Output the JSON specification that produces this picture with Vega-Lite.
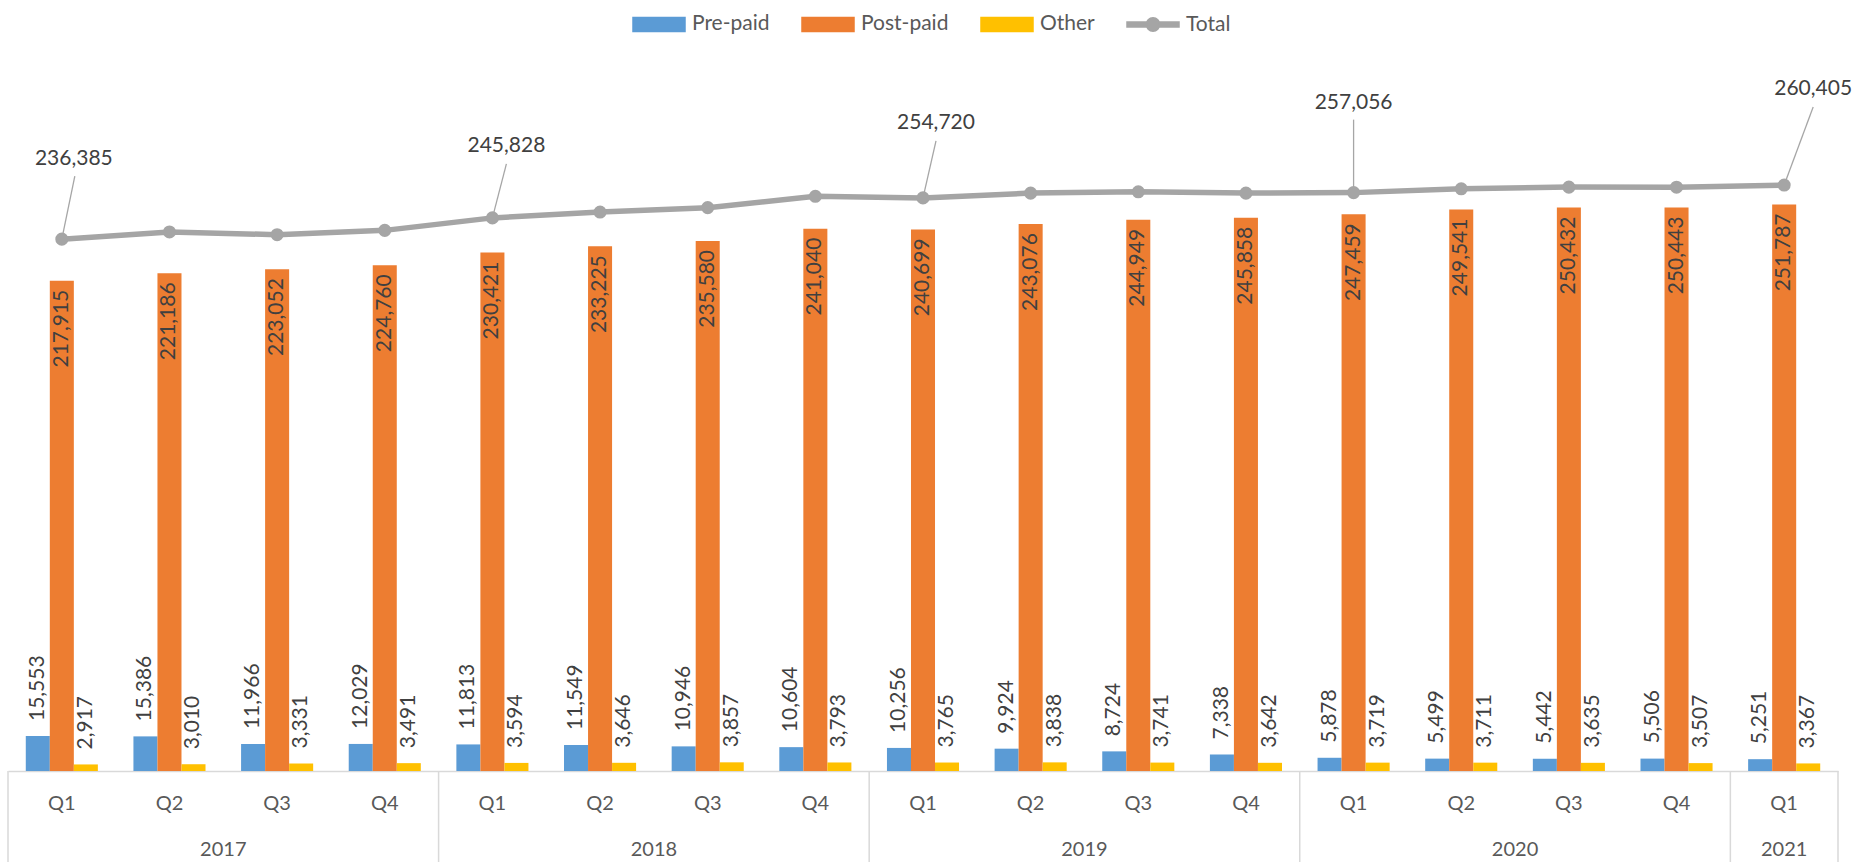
{
  "$schema": "https://vega.github.io/schema/vega-lite/v6.json",
  "autosize": {"type": "none"},
  "width": 1830,
  "height": 675,
  "padding": {"left": 8, "top": 96, "right": 22, "bottom": 91},
  "background": "white",
  "config": {"font": "Lato", "view": {"stroke": null}},
  "data": {"values": [
    {"period": "2017 Q1", "year": "2017", "q": "Q1", "Pre-paid": 15553, "Post-paid": 217915, "Other": 2917, "Total": 236385},
    {"period": "2017 Q2", "year": "2017", "q": "Q2", "Pre-paid": 15386, "Post-paid": 221186, "Other": 3010, "Total": 239582},
    {"period": "2017 Q3", "year": "2017", "q": "Q3", "Pre-paid": 11966, "Post-paid": 223052, "Other": 3331, "Total": 238349},
    {"period": "2017 Q4", "year": "2017", "q": "Q4", "Pre-paid": 12029, "Post-paid": 224760, "Other": 3491, "Total": 240280},
    {"period": "2018 Q1", "year": "2018", "q": "Q1", "Pre-paid": 11813, "Post-paid": 230421, "Other": 3594, "Total": 245828},
    {"period": "2018 Q2", "year": "2018", "q": "Q2", "Pre-paid": 11549, "Post-paid": 233225, "Other": 3646, "Total": 248420},
    {"period": "2018 Q3", "year": "2018", "q": "Q3", "Pre-paid": 10946, "Post-paid": 235580, "Other": 3857, "Total": 250383},
    {"period": "2018 Q4", "year": "2018", "q": "Q4", "Pre-paid": 10604, "Post-paid": 241040, "Other": 3793, "Total": 255437},
    {"period": "2019 Q1", "year": "2019", "q": "Q1", "Pre-paid": 10256, "Post-paid": 240699, "Other": 3765, "Total": 254720},
    {"period": "2019 Q2", "year": "2019", "q": "Q2", "Pre-paid": 9924, "Post-paid": 243076, "Other": 3838, "Total": 256838},
    {"period": "2019 Q3", "year": "2019", "q": "Q3", "Pre-paid": 8724, "Post-paid": 244949, "Other": 3741, "Total": 257414},
    {"period": "2019 Q4", "year": "2019", "q": "Q4", "Pre-paid": 7338, "Post-paid": 245858, "Other": 3642, "Total": 256838},
    {"period": "2020 Q1", "year": "2020", "q": "Q1", "Pre-paid": 5878, "Post-paid": 247459, "Other": 3719, "Total": 257056},
    {"period": "2020 Q2", "year": "2020", "q": "Q2", "Pre-paid": 5499, "Post-paid": 249541, "Other": 3711, "Total": 258751},
    {"period": "2020 Q3", "year": "2020", "q": "Q3", "Pre-paid": 5442, "Post-paid": 250432, "Other": 3635, "Total": 259509},
    {"period": "2020 Q4", "year": "2020", "q": "Q4", "Pre-paid": 5506, "Post-paid": 250443, "Other": 3507, "Total": 259456},
    {"period": "2021 Q1", "year": "2021", "q": "Q1", "Pre-paid": 5251, "Post-paid": 251787, "Other": 3367, "Total": 260405}
  ]},
  "layer": [
    {
      "transform": [{"fold": ["Pre-paid", "Post-paid", "Other"], "as": ["series", "value"]}],
      "layer": [
        {
          "mark": {"type": "bar"},
          "encoding": {
            "x": {"field": "period", "type": "nominal", "sort": null,
              "scale": {"paddingInner": 0, "paddingOuter": 0},
              "axis": {"title": null, "labelExpr": "split(datum.value, ' ')[1]", "labelAngle": 0, "labelFontSize": 20, "labelColor": "#595959", "labelFont": "Lato", "labelBaseline": "middle", "labelPadding": 32, "ticks": false, "tickSize": 0, "domainColor": "#d9d9d9", "domainWidth": 1.5, "grid": false}},
            "xOffset": {"field": "series", "type": "nominal", "sort": ["Pre-paid", "Post-paid", "Other"], "scale": {"paddingInner": 0, "paddingOuter": 0.74}},
            "y": {"field": "value", "type": "quantitative", "scale": {"domain": [0, 300000]}, "axis": null},
            "color": {"field": "series", "type": "nominal",
              "scale": {"domain": ["Pre-paid", "Post-paid", "Other", "Total"], "range": ["#5b9bd5", "#ed7d31", "#ffc000", "#a5a5a5"]},
              "legend": {"title": null, "orient": "none", "legendX": 624, "legendY": -99, "direction": "horizontal",
                "labelFontSize": 21, "labelColor": "#595959", "labelFont": "Lato", "symbolSize": 2704, "labelOffset": 6, "columnPadding": 29,
                "encode": {"symbols": {"update": {
                  "shape": {"signal": "datum.value === 'Total' ? 'M-1,-0.1H1V0.1H-1Z M0.26,0A0.26,0.26 0 1,1 -0.26,0A0.26,0.26 0 1,1 0.26,0Z' : 'M-1,-0.27H1V0.27H-1Z'"},
                  "fill": {"signal": "scale('color', datum.value)"},
                  "stroke": {"value": "transparent"},
                  "opacity": {"value": 1}
                }}}}}
          }
        },
        {
          "transform": [{"filter": "datum.series === 'Post-paid'"}],
          "mark": {"type": "text", "angle": 270, "align": "right", "baseline": "middle", "dx": -9, "fontSize": 21, "color": "#404040"},
          "encoding": {
            "x": {"field": "period", "type": "nominal", "sort": null},
            "xOffset": {"field": "series", "type": "nominal", "sort": ["Pre-paid", "Post-paid", "Other"]},
            "y": {"field": "value", "type": "quantitative", "axis": null},
            "text": {"field": "value", "type": "quantitative", "format": ","}
          }
        },
        {
          "transform": [{"filter": "datum.series !== 'Post-paid'"}],
          "mark": {"type": "text", "angle": 270, "align": "left", "baseline": "middle", "dx": 15, "fontSize": 21, "color": "#404040"},
          "encoding": {
            "x": {"field": "period", "type": "nominal", "sort": null},
            "xOffset": {"field": "series", "type": "nominal", "sort": ["Pre-paid", "Post-paid", "Other"]},
            "y": {"field": "value", "type": "quantitative", "axis": null},
            "text": {"field": "value", "type": "quantitative", "format": ","}
          }
        }
      ]
    },
    {
      "transform": [{"filter": "datum.period === '2017 Q1'"}],
      "mark": {"type": "rule", "color": "#a6a6a6", "strokeWidth": 1.3, "x2Offset": 13, "y2Offset": -63},
      "encoding": {"x": {"field": "period", "type": "nominal", "sort": null}, "x2": {"field": "period"}, "y": {"field": "Total", "type": "quantitative", "axis": null}, "y2": {"field": "Total"}}
    },
    {
      "transform": [{"filter": "datum.period === '2018 Q1'"}],
      "mark": {"type": "rule", "color": "#a6a6a6", "strokeWidth": 1.3, "x2Offset": 14, "y2Offset": -54},
      "encoding": {"x": {"field": "period", "type": "nominal", "sort": null}, "x2": {"field": "period"}, "y": {"field": "Total", "type": "quantitative", "axis": null}, "y2": {"field": "Total"}}
    },
    {
      "transform": [{"filter": "datum.period === '2019 Q1'"}],
      "mark": {"type": "rule", "color": "#a6a6a6", "strokeWidth": 1.3, "x2Offset": 13, "y2Offset": -57},
      "encoding": {"x": {"field": "period", "type": "nominal", "sort": null}, "x2": {"field": "period"}, "y": {"field": "Total", "type": "quantitative", "axis": null}, "y2": {"field": "Total"}}
    },
    {
      "transform": [{"filter": "datum.period === '2020 Q1'"}],
      "mark": {"type": "rule", "color": "#a6a6a6", "strokeWidth": 1.3, "x2Offset": 0, "y2Offset": -73},
      "encoding": {"x": {"field": "period", "type": "nominal", "sort": null}, "x2": {"field": "period"}, "y": {"field": "Total", "type": "quantitative", "axis": null}, "y2": {"field": "Total"}}
    },
    {
      "transform": [{"filter": "datum.period === '2021 Q1'"}],
      "mark": {"type": "rule", "color": "#a6a6a6", "strokeWidth": 1.3, "x2Offset": 29, "y2Offset": -78},
      "encoding": {"x": {"field": "period", "type": "nominal", "sort": null}, "x2": {"field": "period"}, "y": {"field": "Total", "type": "quantitative", "axis": null}, "y2": {"field": "Total"}}
    },
    {
      "mark": {"type": "line", "strokeWidth": 5.5, "point": {"filled": true, "size": 170}},
      "encoding": {
        "x": {"field": "period", "type": "nominal", "sort": null},
        "y": {"field": "Total", "type": "quantitative", "axis": null},
        "color": {"datum": "Total"}
      }
    },
    {
      "transform": [{"filter": "datum.period === '2017 Q1'"}],
      "mark": {"type": "text", "dx": 12, "dy": -80, "fontSize": 21, "color": "#404040", "baseline": "middle"},
      "encoding": {"x": {"field": "period", "type": "nominal", "sort": null}, "y": {"field": "Total", "type": "quantitative", "axis": null}, "text": {"field": "Total", "type": "quantitative", "format": ","}}
    },
    {
      "transform": [{"filter": "datum.period === '2018 Q1'"}],
      "mark": {"type": "text", "dx": 14, "dy": -72, "fontSize": 21, "color": "#404040", "baseline": "middle"},
      "encoding": {"x": {"field": "period", "type": "nominal", "sort": null}, "y": {"field": "Total", "type": "quantitative", "axis": null}, "text": {"field": "Total", "type": "quantitative", "format": ","}}
    },
    {
      "transform": [{"filter": "datum.period === '2019 Q1'"}],
      "mark": {"type": "text", "dx": 13, "dy": -75, "fontSize": 21, "color": "#404040", "baseline": "middle"},
      "encoding": {"x": {"field": "period", "type": "nominal", "sort": null}, "y": {"field": "Total", "type": "quantitative", "axis": null}, "text": {"field": "Total", "type": "quantitative", "format": ","}}
    },
    {
      "transform": [{"filter": "datum.period === '2020 Q1'"}],
      "mark": {"type": "text", "dx": 0, "dy": -90, "fontSize": 21, "color": "#404040", "baseline": "middle"},
      "encoding": {"x": {"field": "period", "type": "nominal", "sort": null}, "y": {"field": "Total", "type": "quantitative", "axis": null}, "text": {"field": "Total", "type": "quantitative", "format": ","}}
    },
    {
      "transform": [{"filter": "datum.period === '2021 Q1'"}],
      "mark": {"type": "text", "dx": 29, "dy": -96, "fontSize": 21, "color": "#404040", "baseline": "middle"},
      "encoding": {"x": {"field": "period", "type": "nominal", "sort": null}, "y": {"field": "Total", "type": "quantitative", "axis": null}, "text": {"field": "Total", "type": "quantitative", "format": ","}}
    },
    {
      "transform": [{"filter": "datum.q === 'Q1'"}],
      "mark": {"type": "rule", "color": "#d9d9d9", "strokeWidth": 1.5, "y2Offset": 91},
      "encoding": {"x": {"field": "period", "type": "nominal", "sort": null, "bandPosition": 0}, "y": {"datum": 0, "type": "quantitative", "axis": null}, "y2": {"datum": 0}}
    },
    {
      "transform": [{"filter": "datum.year === '2021'"}],
      "mark": {"type": "rule", "color": "#d9d9d9", "strokeWidth": 1.5, "y2Offset": 91},
      "encoding": {"x": {"field": "period", "type": "nominal", "sort": null, "bandPosition": 1}, "y": {"datum": 0, "type": "quantitative", "axis": null}, "y2": {"datum": 0}}
    },
    {
      "transform": [{"filter": "datum.q === 'Q2'"}],
      "mark": {"type": "text", "dy": 79, "fontSize": 20, "color": "#595959", "baseline": "middle"},
      "encoding": {"x": {"field": "period", "type": "nominal", "sort": null, "bandPosition": 1}, "y": {"datum": 0, "type": "quantitative", "axis": null}, "text": {"field": "year"}}
    },
    {
      "transform": [{"filter": "datum.year === '2021'"}],
      "mark": {"type": "text", "dy": 79, "fontSize": 20, "color": "#595959", "baseline": "middle"},
      "encoding": {"x": {"field": "period", "type": "nominal", "sort": null}, "y": {"datum": 0, "type": "quantitative", "axis": null}, "text": {"field": "year"}}
    }
  ]
}
